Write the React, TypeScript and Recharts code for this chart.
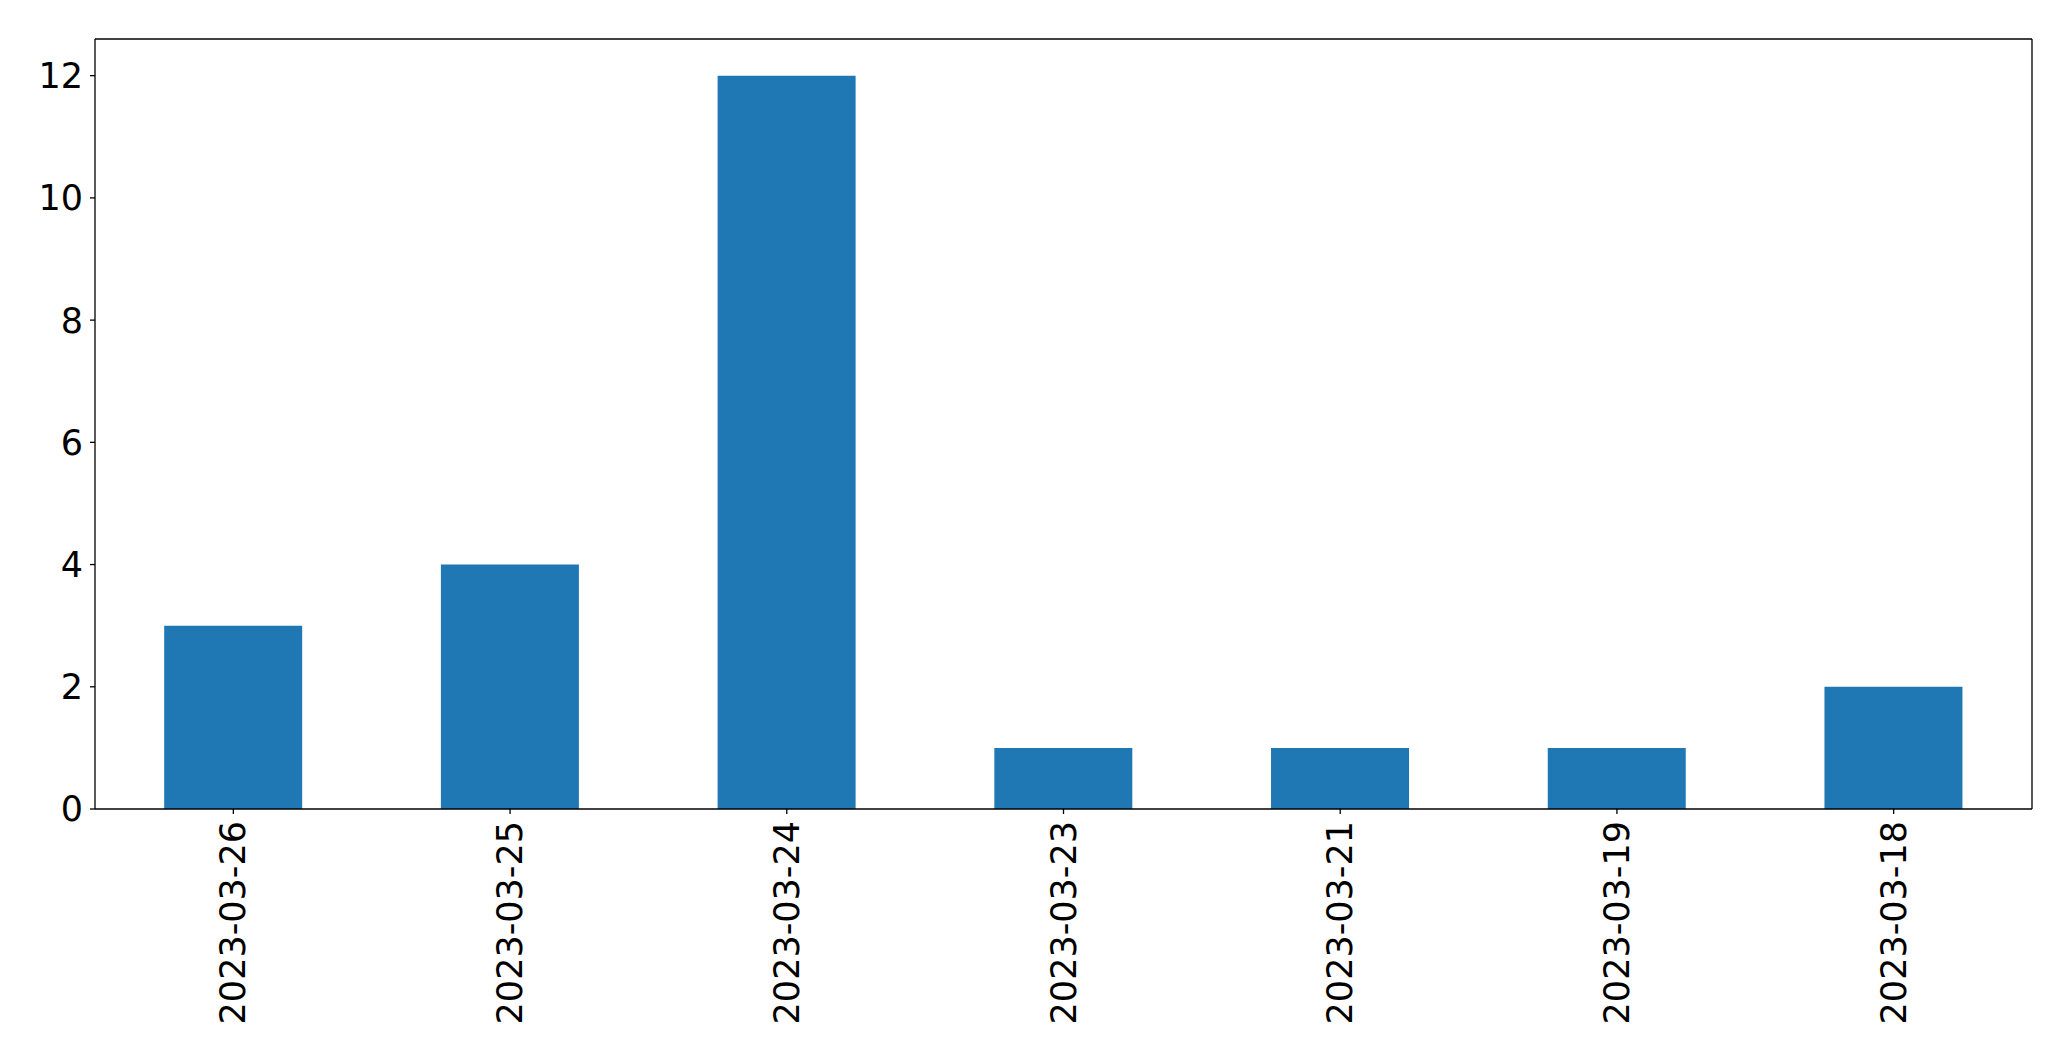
import React from "react";
import { BarChart, Bar, XAxis, YAxis, CartesianGrid } from "recharts";

const categories = ["2023-03-26", "2023-03-25", "2023-03-24", "2023-03-23", "2023-03-21", "2023-03-19", "2023-03-18"];
const counts = [3, 4, 12, 1, 1, 1, 2];
const yTicks = [0, 2, 4, 6, 8, 10, 12];

const data = categories.map((c, i) => ({ date: c, count: counts[i] }));

const FONT = "'DejaVu Sans', sans-serif";

const XTick = (props: any) => {
  const { x, y, payload } = props;
  return (
    <text
      transform={`translate(${x},${y + 5}) rotate(-90)`}
      textAnchor="end"
      dominantBaseline="central"
      fontFamily={FONT}
      fontSize={35}
      fill="#000"
    >
      {payload.value}
    </text>
  );
};

export default function App() {
  return (
    <BarChart
      width={2055}
      height={1045}
      data={data}
      margin={{ top: 31, right: 31, left: 0, bottom: 0 }}
      barCategoryGap="25%"
    >
      <CartesianGrid
        stroke="#000"
        strokeWidth={1.3}
        horizontalCoordinatesGenerator={(p: any) => [p.offset.top]}
        verticalCoordinatesGenerator={(p: any) => [p.offset.left + p.offset.width]}
      />
      <XAxis
        dataKey="date"
        height={244}
        tick={<XTick />}
        tickSize={5}
        interval={0}
        axisLine={{ stroke: "#000", strokeWidth: 1.3 }}
        tickLine={{ stroke: "#000", strokeWidth: 1.3 }}
      />
      <YAxis
        width={87}
        domain={[0, 12.6]}
        ticks={yTicks}
        tickSize={5}
        tickMargin={7}
        interval={0}
        tick={{ fontFamily: FONT, fontSize: 35, fill: "#000" }}
        axisLine={{ stroke: "#000", strokeWidth: 1.3 }}
        tickLine={{ stroke: "#000", strokeWidth: 1.3 }}
      />
      <Bar dataKey="count" fill="#1f77b4" isAnimationActive={false} />
    </BarChart>
  );
}
